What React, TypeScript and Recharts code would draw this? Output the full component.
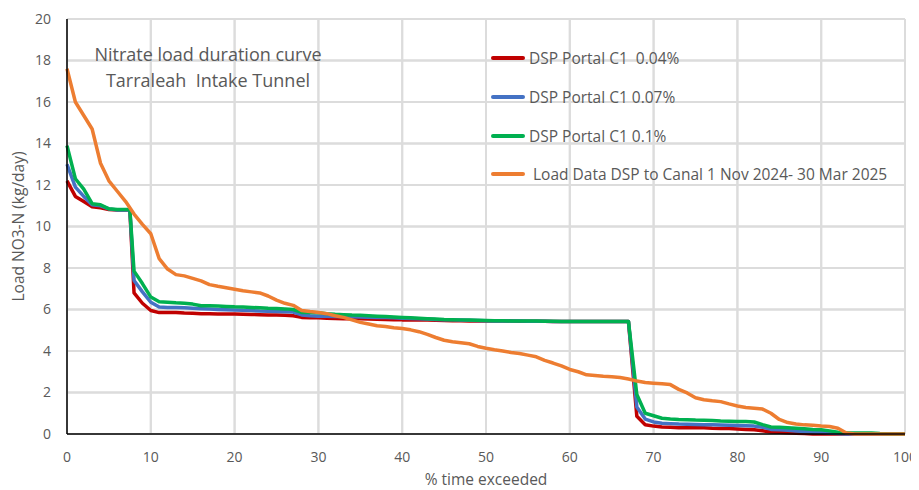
import React from 'react';
import { LineChart, Line, XAxis, YAxis, CartesianGrid } from 'recharts';

// % of time the load is exceeded
const pctExceeded = [
  0, 1, 2, 3, 4, 5, 6, 7, 7.5, 8, 9, 10, 11, 12, 13, 14, 15, 16, 17, 18, 19, 20,
  21, 22, 23, 24, 25, 26, 27, 28, 29, 30, 31, 32, 33, 34, 35, 36, 37, 38, 39, 40,
  41, 42, 43, 44, 45, 46, 47, 48, 49, 50, 51, 52, 53, 54, 55, 56, 57, 58, 59, 60,
  61, 62, 63, 64, 65, 66, 67, 68, 69, 70, 71, 72, 73, 74, 75, 76, 77, 78, 79, 80,
  81, 82, 83, 84, 85, 86, 87, 88, 89, 90, 91, 92, 93, 94, 95, 96, 97, 98, 99, 100,
];

// Modelled load, DSP Portal C1 at 0.04 %
const portal004 = [
  12.2, 11.45, 11.2, 10.95, 10.9, 10.82, 10.8, 10.8, 10.8, 6.8, 6.3, 5.95, 5.85, 5.85, 5.85, 5.83, 5.82, 5.8, 5.8, 5.78, 5.78, 5.78,
  5.77, 5.76, 5.75, 5.74, 5.73, 5.72, 5.7, 5.62, 5.6, 5.6, 5.58, 5.57, 5.56, 5.55, 5.55, 5.54, 5.53, 5.52, 5.51, 5.5,
  5.5, 5.49, 5.49, 5.48, 5.47, 5.46, 5.46, 5.45, 5.45, 5.45, 5.44, 5.44, 5.44, 5.43, 5.43, 5.43, 5.43, 5.42, 5.42, 5.42,
  5.42, 5.42, 5.42, 5.42, 5.42, 5.42, 5.42, 0.85, 0.45, 0.38, 0.34, 0.32, 0.3, 0.3, 0.3, 0.3, 0.28, 0.27, 0.26, 0.24,
  0.22, 0.2, 0.16, 0.1, 0.08, 0.06, 0.04, 0.02, 0, 0, 0, 0, 0, 0, 0, 0, 0, 0, 0, 0,
];

// Modelled load, DSP Portal C1 at 0.07 %
const portal007 = [
  13.0, 11.9, 11.45, 11.05, 11.0, 10.85, 10.8, 10.8, 10.8, 7.4, 6.85, 6.35, 6.12, 6.1, 6.1, 6.08, 6.06, 6.04, 6.02, 6.0, 5.99, 5.98,
  5.96, 5.95, 5.93, 5.92, 5.9, 5.89, 5.88, 5.74, 5.7, 5.68, 5.67, 5.66, 5.65, 5.65, 5.64, 5.63, 5.62, 5.61, 5.6, 5.58,
  5.57, 5.55, 5.54, 5.52, 5.51, 5.5, 5.49, 5.48, 5.47, 5.46, 5.45, 5.45, 5.44, 5.44, 5.43, 5.43, 5.43, 5.42, 5.42, 5.42,
  5.42, 5.42, 5.42, 5.42, 5.42, 5.42, 5.42, 1.3, 0.72, 0.58, 0.52, 0.5, 0.48, 0.47, 0.46, 0.45, 0.44, 0.43, 0.42, 0.41,
  0.4, 0.38, 0.33, 0.22, 0.2, 0.18, 0.15, 0.12, 0.1, 0.08, 0.05, 0.02, 0, 0, 0, 0, 0, 0, 0, 0,
];

// Modelled load, DSP Portal C1 at 0.1 %
const portal01 = [
  13.9, 12.3, 11.8, 11.1, 11.05, 10.85, 10.82, 10.82, 10.82, 7.85, 7.25, 6.6, 6.37, 6.35, 6.32, 6.3, 6.26, 6.18, 6.18, 6.17, 6.15, 6.13,
  6.12, 6.1, 6.08, 6.06, 6.05, 6.03, 6.0, 5.86, 5.85, 5.84, 5.8, 5.77, 5.75, 5.73, 5.72, 5.7, 5.68, 5.66, 5.64, 5.62,
  5.6, 5.58, 5.56, 5.54, 5.52, 5.51, 5.5, 5.49, 5.48, 5.47, 5.46, 5.46, 5.45, 5.45, 5.44, 5.44, 5.43, 5.43, 5.42, 5.42,
  5.42, 5.42, 5.42, 5.42, 5.42, 5.42, 5.42, 1.9, 1.0, 0.88, 0.76, 0.72, 0.7, 0.69, 0.67, 0.66, 0.65, 0.63, 0.62, 0.6,
  0.6, 0.58, 0.45, 0.34, 0.32, 0.3, 0.28, 0.25, 0.22, 0.2, 0.15, 0.08, 0.05, 0.05, 0.05, 0.05, 0.02, 0, 0, 0,
];

// Measured load, DSP to canal, 1 Nov 2024 - 30 Mar 2025
const measuredLoad = [
  17.6, 16.0, 15.35, 14.7, 13.05, 12.2, 11.7, 11.2, 10.9, 10.6, 10.1, 9.65, 8.45, 7.95, 7.68, 7.62, 7.5, 7.38, 7.2, 7.12, 7.05, 6.98,
  6.9, 6.85, 6.8, 6.65, 6.45, 6.3, 6.2, 5.95, 5.9, 5.86, 5.8, 5.7, 5.62, 5.5, 5.38, 5.3, 5.22, 5.18, 5.12, 5.08,
  5.02, 4.93, 4.8, 4.65, 4.52, 4.45, 4.4, 4.35, 4.22, 4.13, 4.06, 4.0, 3.93, 3.88, 3.8, 3.72, 3.55, 3.42, 3.28, 3.11,
  3.0, 2.85, 2.82, 2.78, 2.76, 2.72, 2.65, 2.55, 2.48, 2.45, 2.42, 2.38, 2.15, 1.98, 1.75, 1.65, 1.6, 1.56, 1.45, 1.35,
  1.28, 1.24, 1.2, 1.0, 0.7, 0.55, 0.48, 0.44, 0.42, 0.38, 0.36, 0.28, 0.05, 0, 0, 0, 0, 0, 0, 0,
];

const xTicks = [0, 10, 20, 30, 40, 50, 60, 70, 80, 90, 100];
const yTicks = [0, 2, 4, 6, 8, 10, 12, 14, 16, 18, 20];

const seriesNames = [
  'DSP Portal C1  0.04%',
  'DSP Portal C1 0.07%',
  'DSP Portal C1 0.1%',
  ' Load Data DSP to Canal 1 Nov 2024- 30 Mar 2025',
];
const seriesColors = ['#C00000', '#4472C4', '#00B050', '#ED7D31'];
const seriesKeys = ['c004', 'c007', 'c01', 'measured'];

const rows = pctExceeded.map((x, i) => ({
  x,
  c004: portal004[i],
  c007: portal007[i],
  c01: portal01[i],
  measured: measuredLoad[i],
}));

const FONT = '"Open Sans", "Liberation Sans", sans-serif';
const TEXT_GREY = '#595959';
const FRAME = { stroke: '#000000', strokeWidth: 1.5 };
const GRID_COLOUR = '#DCDCDC';

// chart geometry
const CHART_W = 911;
const CHART_H = 482;
const MARGIN = { top: 11, right: 14, bottom: 0, left: 0 };
const Y_AXIS_W = 59;
const X_AXIS_H = 56;
const PLOT_LEFT = MARGIN.left + Y_AXIS_W;
const PLOT_TOP = MARGIN.top;
const PLOT_W = CHART_W - PLOT_LEFT - MARGIN.right;
const PLOT_H = CHART_H - PLOT_TOP - MARGIN.bottom - X_AXIS_H;
const X_MAX = xTicks[xTicks.length - 1];
const Y_MAX = yTicks[yTicks.length - 1];

// light gridlines behind the plot, one per axis tick
function GridUnderlay() {
  return (
    <svg
      width={CHART_W}
      height={CHART_H}
      style={{ position: 'absolute', left: 0, top: 0, pointerEvents: 'none' }}
    >
      {xTicks.map((t) => {
        const gx = PLOT_LEFT + (t / X_MAX) * PLOT_W;
        return (
          <line key={`gx${t}`} x1={gx} x2={gx} y1={PLOT_TOP} y2={PLOT_TOP + PLOT_H} stroke={GRID_COLOUR} strokeWidth={2} />
        );
      })}
      {yTicks.map((t) => {
        const gy = PLOT_TOP + PLOT_H - (t / Y_MAX) * PLOT_H;
        return (
          <line key={`gy${t}`} x1={PLOT_LEFT} x2={PLOT_LEFT + PLOT_W} y1={gy} y2={gy} stroke={GRID_COLOUR} strokeWidth={2} />
        );
      })}
    </svg>
  );
}

function LegendBox() {
  return (
    <div
      style={{
        position: 'absolute',
        left: 483,
        top: 31,
        fontFamily: FONT,
        fontSize: 15.5,
        color: TEXT_GREY,
        pointerEvents: 'none',
      }}
    >
      {seriesNames.map((name, i) => (
        <div key={name} style={{ display: 'flex', alignItems: 'center', height: 38.7 }}>
          <span
            style={{
              display: 'inline-block',
              width: 34,
              height: 4,
              borderRadius: 2,
              background: seriesColors[i],
              marginRight: 4,
            }}
          />
          <span style={{ whiteSpace: 'pre' }}>{name}</span>
        </div>
      ))}
    </div>
  );
}

export default function App() {
  return (
    <div style={{ position: 'relative', width: CHART_W, height: CHART_H }}>
      <GridUnderlay />
      <div style={{ position: 'absolute', left: 0, top: 0 }}>
        <LineChart width={CHART_W} height={CHART_H} data={rows} margin={MARGIN}>
          <CartesianGrid stroke={GRID_COLOUR} strokeWidth={2} />
          {/* top and right edges of the plot frame */}
          <XAxis
            xAxisId="frameTop"
            orientation="top"
            dataKey="x"
            type="number"
            domain={[0, X_MAX]}
            height={0}
            tick={false}
            tickLine={false}
            axisLine={FRAME}
          />
          <YAxis
            yAxisId="frameRight"
            orientation="right"
            type="number"
            domain={[0, Y_MAX]}
            width={0}
            tick={false}
            tickLine={false}
            axisLine={FRAME}
          />
          <XAxis
            dataKey="x"
            type="number"
            domain={[0, X_MAX]}
            ticks={xTicks}
            height={X_AXIS_H}
            tickLine={false}
            tickSize={0}
            tickMargin={18}
            axisLine={FRAME}
            tick={{ fill: TEXT_GREY, fontSize: 14, fontFamily: FONT }}
            label={{
              value: '% time exceeded',
              position: 'insideBottom',
              offset: 5,
              fill: TEXT_GREY,
              fontSize: 15.5,
              fontFamily: FONT,
            }}
          />
          <YAxis
            type="number"
            domain={[0, Y_MAX]}
            ticks={yTicks}
            width={Y_AXIS_W}
            tickLine={false}
            tickSize={0}
            tickMargin={16}
            axisLine={FRAME}
            tick={{ fill: TEXT_GREY, fontSize: 14, fontFamily: FONT }}
            label={{
              value: 'Load NO3-N (kg/day)',
              angle: -90,
              position: 'insideLeft',
              offset: 10,
              fill: TEXT_GREY,
              fontSize: 15.5,
              fontFamily: FONT,
              style: { textAnchor: 'middle' },
            }}
          />
          {seriesKeys.map((k, i) => (
            <Line
              key={k}
              type="linear"
              dataKey={k}
              name={seriesNames[i]}
              stroke={seriesColors[i]}
              strokeWidth={3.5}
              strokeLinejoin="round"
              dot={false}
              activeDot={false}
              isAnimationActive={false}
            />
          ))}
        </LineChart>
      </div>
      <LegendBox />
      <div
        style={{
          position: 'absolute',
          left: 60,
          top: 33,
          width: 280,
          textAlign: 'center',
          fontFamily: FONT,
          fontSize: 18,
          lineHeight: '26px',
          color: TEXT_GREY,
          whiteSpace: 'pre',
          pointerEvents: 'none',
        }}
      >
        {'Nitrate load duration curve\nTarraleah  Intake Tunnel'}
      </div>
    </div>
  );
}
